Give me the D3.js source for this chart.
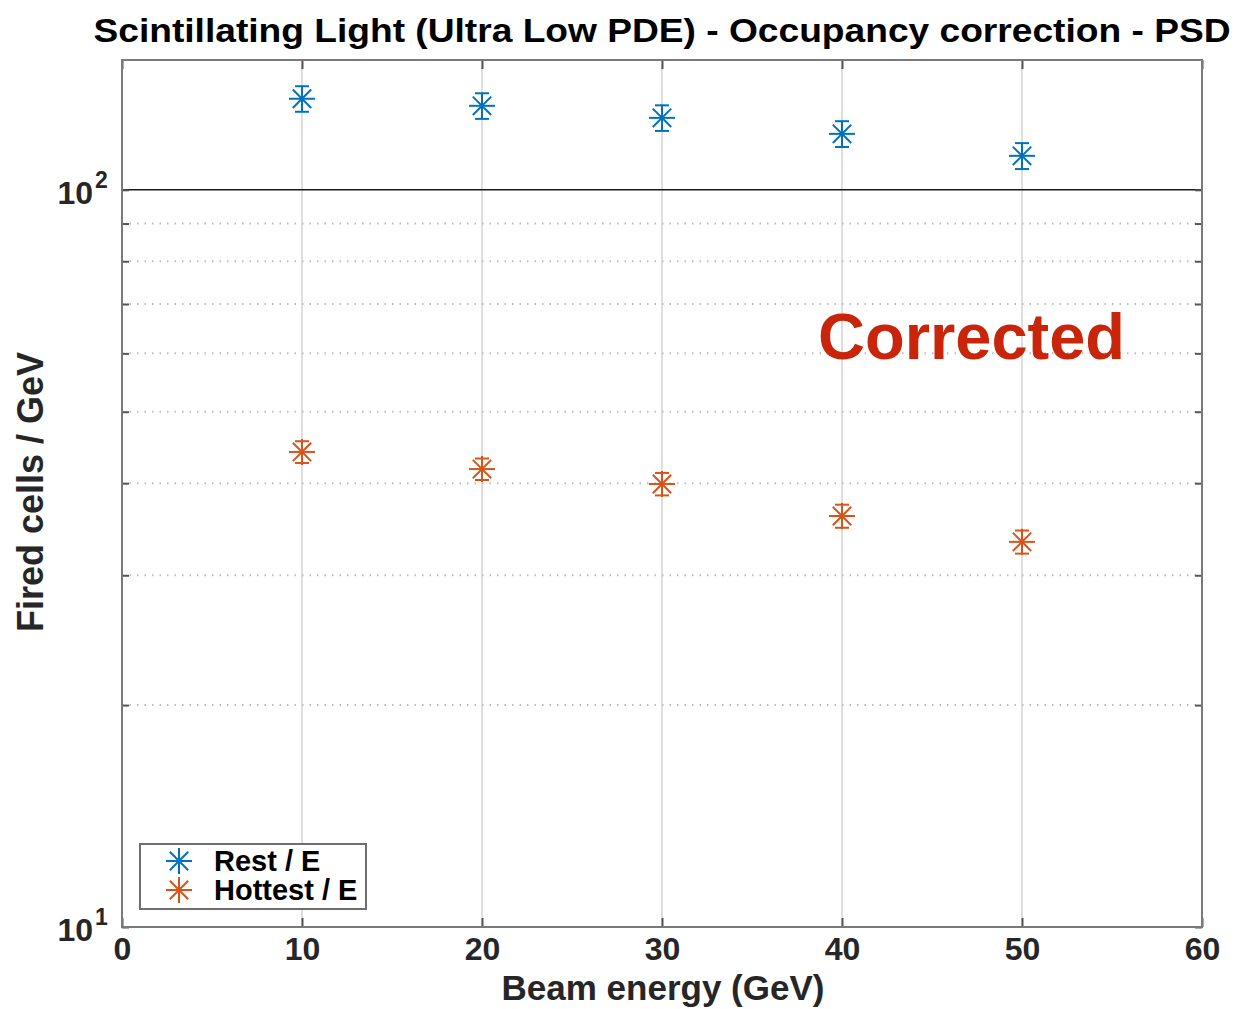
<!DOCTYPE html>
<html>
<head>
<meta charset="utf-8">
<script src="https://cdn.jsdelivr.net/npm/d3@7"></script>
<style>
  body { margin: 0; background: #fff; }
  svg text { font-family: "Liberation Sans", Arial, Helvetica, sans-serif; font-weight: bold; }
</style>
</head>
<body>
<svg id="chart" width="1237" height="1009"></svg>
<script>
// Beam energies (GeV)
const energies = [10, 20, 30, 40, 50];
// Fired cells per GeV, rest of the cells
const restValues = [132.9, 130.0, 125.2, 119.1, 111.2];
const restErrors = [5.3, 5.2, 5.0, 4.8, 4.5];
// Fired cells per GeV, hottest cell
const hottestValues = [44.1, 41.8, 39.9, 36.1, 33.3];
const hottestErrors = [1.5, 1.4, 1.4, 1.3, 1.2];

const xTicks = [0, 10, 20, 30, 40, 50, 60];
const yMinorTicks = [10, 20, 30, 40, 50, 60, 70, 80, 90, 100];
const yLabelTicks = [{ v: 10, exp: "1" }, { v: 100, exp: "2" }];

const seriesNames = ["Rest / E", "Hottest / E"];
const seriesColors = ["#0072BD", "#D95319"];

const svg = d3.select("#chart");
const plotLeft = 122, plotRight = 1202, plotTop = 60, plotBottom = 927;

const x = d3.scaleLinear().domain([0, 60]).range([plotLeft, plotRight]);
const y = d3.scaleLog().domain([10, 150]).range([plotBottom, plotTop]);

const axisColor = "#262626";

// Vertical grid lines
svg.append("g").selectAll("line")
  .data(xTicks.slice(1, -1))
  .join("line")
  .attr("x1", d => x(d)).attr("x2", d => x(d))
  .attr("y1", plotTop).attr("y2", plotBottom)
  .attr("stroke", "#dedede").attr("stroke-width", 2);

// Horizontal minor grid (dotted)
svg.append("g").selectAll("line")
  .data(yMinorTicks.filter(v => v > 10 && v < 100))
  .join("line")
  .attr("x1", plotLeft).attr("x2", plotRight)
  .attr("y1", d => y(d)).attr("y2", d => y(d))
  .attr("stroke", "#bdbdbd").attr("stroke-width", 2)
  .attr("stroke-dasharray", "1.5,6");

// Major grid line at 10^2
svg.append("line")
  .attr("x1", plotLeft).attr("x2", plotRight)
  .attr("y1", y(100)).attr("y2", y(100))
  .attr("stroke", "#1a1a1a").attr("stroke-width", 1.6);

// Axes (ticks point inward)
const xAxisB = d3.axisBottom(x).tickValues(xTicks).tickSize(-9).tickFormat(d3.format("d")).tickPadding(10);
const xAxisT = d3.axisTop(x).tickValues(xTicks).tickSize(-9).tickFormat("");
const yAxisL = d3.axisLeft(y).tickValues(yMinorTicks).tickSize(-7).tickFormat("");
const yAxisR = d3.axisRight(y).tickValues(yMinorTicks).tickSize(-7).tickFormat("");

function styleAxis(g) {
  g.select(".domain").remove();
  g.selectAll(".tick line").attr("stroke", "#555").attr("stroke-width", 2);
  g.selectAll(".tick text").attr("fill", axisColor).attr("font-size", 32)
    .attr("font-family", "'Liberation Sans', Arial, sans-serif").attr("font-weight", "bold");
}
svg.append("g").attr("transform", `translate(0,${plotBottom})`).call(xAxisB).call(styleAxis);
svg.append("g").attr("transform", `translate(0,${plotTop})`).call(xAxisT).call(styleAxis);
svg.append("g").attr("transform", `translate(${plotLeft},0)`).call(yAxisL).call(styleAxis);
svg.append("g").attr("transform", `translate(${plotRight},0)`).call(yAxisR).call(styleAxis);

// Axes box
svg.append("rect")
  .attr("x", plotLeft).attr("y", plotTop)
  .attr("width", plotRight - plotLeft).attr("height", plotBottom - plotTop)
  .attr("fill", "none").attr("stroke", "#7a7a7a").attr("stroke-width", 2);

// Y tick labels 10^1, 10^2
svg.append("g").selectAll("text")
  .data(yLabelTicks)
  .join("text")
  .attr("x", plotLeft - 29).attr("y", d => y(d.v) + 14)
  .attr("text-anchor", "end")
  .attr("fill", axisColor).attr("font-size", 32)
  .text("10");
svg.append("g").selectAll("text")
  .data(yLabelTicks)
  .join("text")
  .attr("x", plotLeft - 27).attr("y", d => y(d.v) - 2)
  .attr("fill", axisColor).attr("font-size", 23)
  .text(d => d.exp);

// Asterisk marker
function drawAsterisk(g, cx, cy, color) {
  const r = 13, dg = 9.2;
  const p = g.append("g").attr("stroke", color).attr("stroke-width", 2);
  p.append("line").attr("x1", cx - r).attr("x2", cx + r).attr("y1", cy).attr("y2", cy);
  p.append("line").attr("x1", cx).attr("x2", cx).attr("y1", cy - r).attr("y2", cy + r);
  p.append("line").attr("x1", cx - dg).attr("x2", cx + dg).attr("y1", cy - dg).attr("y2", cy + dg);
  p.append("line").attr("x1", cx - dg).attr("x2", cx + dg).attr("y1", cy + dg).attr("y2", cy - dg);
}
// Asterisk with vertical error bar and caps
function drawPoint(g, cx, cy, yLo, yHi, color) {
  const cap = 7;
  const p = g.append("g").attr("stroke", color).attr("stroke-width", 2);
  p.append("line").attr("x1", cx).attr("x2", cx).attr("y1", yLo).attr("y2", yHi);
  p.append("line").attr("x1", cx - cap).attr("x2", cx + cap).attr("y1", yLo).attr("y2", yLo);
  p.append("line").attr("x1", cx - cap).attr("x2", cx + cap).attr("y1", yHi).attr("y2", yHi);
  drawAsterisk(g, cx, cy, color);
}

const marks = svg.append("g");
[[restValues, restErrors], [hottestValues, hottestErrors]].forEach(([vals, errs], si) => {
  energies.forEach((e, i) => {
    drawPoint(marks, x(e), y(vals[i]), y(vals[i] - errs[i]), y(vals[i] + errs[i]), seriesColors[si]);
  });
});

// Title
svg.append("text")
  .attr("x", 662).attr("y", 42)
  .attr("text-anchor", "middle")
  .attr("font-size", 34).attr("fill", "#000")
  .attr("textLength", 1137).attr("lengthAdjust", "spacingAndGlyphs")
  .text("Scintillating Light (Ultra Low PDE) - Occupancy correction - PSD");

// Axis labels
svg.append("text")
  .attr("x", 663).attr("y", 1000)
  .attr("text-anchor", "middle")
  .attr("font-size", 35).attr("fill", axisColor)
  .text("Beam energy (GeV)");
svg.append("text")
  .attr("transform", `translate(43,492) rotate(-90)`)
  .attr("text-anchor", "middle")
  .attr("font-size", 36).attr("fill", axisColor)
  .text("Fired cells / GeV");

// Annotation
svg.append("text")
  .attr("x", 818).attr("y", 359)
  .attr("font-size", 65).attr("fill", "#C8250A")
  .text("Corrected");

// Legend
const lg = svg.append("g");
lg.append("rect")
  .attr("x", 140).attr("y", 844).attr("width", 226).attr("height", 65)
  .attr("fill", "#fff").attr("stroke", "#6e6e6e").attr("stroke-width", 2);
seriesNames.forEach((name, i) => {
  const cy = 861 + i * 29;
  drawAsterisk(lg, 179, cy, seriesColors[i]);
  lg.append("text")
    .attr("x", 214).attr("y", cy + 10)
    .attr("font-size", 29).attr("fill", "#000")
    .text(name);
});
</script>
</body>
</html>
